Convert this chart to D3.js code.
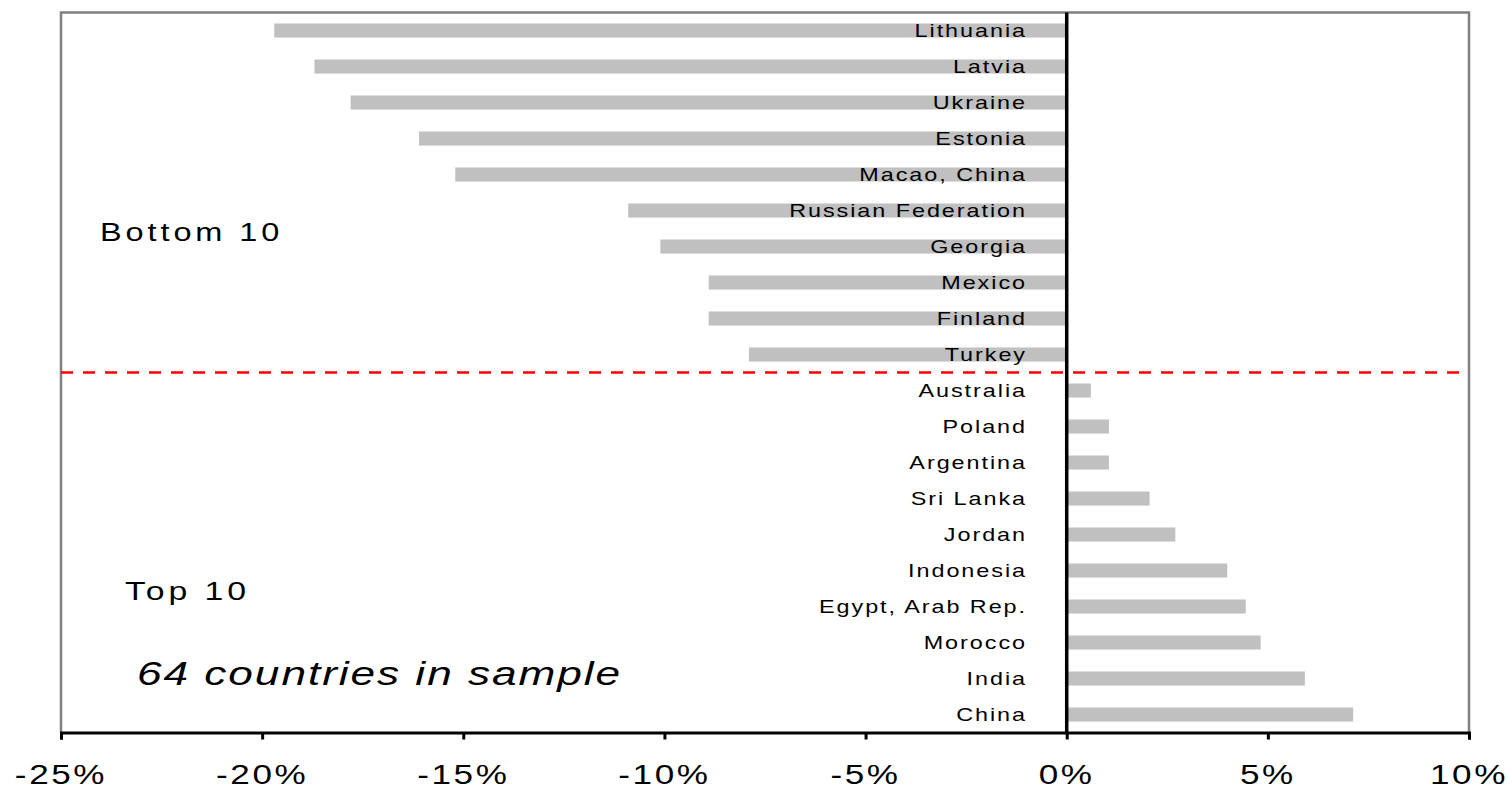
<!DOCTYPE html>
<html>
<head>
<meta charset="utf-8">
<script src="https://cdn.jsdelivr.net/npm/d3@7"></script>
<style>
  html, body { margin: 0; padding: 0; background: #fff; }
  svg { display: block; }
  text { font-family: "Liberation Sans", Arial, sans-serif; fill: #000; }
</style>
</head>
<body>
<svg id="chart" width="1509" height="793"></svg>
<script>
// Countries, top to bottom
const countries = [
  "Lithuania", "Latvia", "Ukraine", "Estonia", "Macao, China",
  "Russian Federation", "Georgia", "Mexico", "Finland", "Turkey",
  "Australia", "Poland", "Argentina", "Sri Lanka", "Jordan",
  "Indonesia", "Egypt, Arab Rep.", "Morocco", "India", "China"
];
// Change, in percent
const values = [
  -19.7, -18.7, -17.8, -16.1, -15.2,
  -10.9, -10.1, -8.9, -8.9, -7.9,
  0.6, 1.05, 1.05, 2.06, 2.7,
  3.99, 4.45, 4.82, 5.92, 7.12
];
const xTicks = [-25, -20, -15, -10, -5, 0, 5, 10];
const groupLabels = ["Bottom 10", "Top 10"];
const sampleNote = "64 countries in sample";

const svg = d3.select("#chart");
const plotLeft = 61, plotRight = 1469, plotTop = 12.5, plotBottom = 732.5;
const sx = 1.3; // horizontal text stretch

const x = d3.scaleLinear().domain([-25, 10]).range([plotLeft, plotRight]);
const y = d3.scaleBand().domain(countries).range([plotTop, plotBottom]).paddingInner(0.61).paddingOuter(0.305);

const data = countries.map((c, i) => ({ name: c, value: values[i] }));

// Stretched text helper
function label(g, tx, ty, str, opts) {
  const o = Object.assign({ size: 16, anchor: "start", ls: 2, scale: sx, italic: false }, opts || {});
  const t = g.append("g").attr("transform", `translate(${tx},${ty}) scale(${o.scale},1)`)
    .append("text")
    .attr("text-anchor", o.anchor)
    .style("font-size", o.size + "px")
    .style("letter-spacing", o.ls + "px")
    .text(str);
  if (o.italic) t.style("font-style", "italic");
  return t;
}

// Bars
svg.append("g").selectAll("rect").data(data).join("rect")
  .attr("x", d => x(Math.min(0, d.value)))
  .attr("width", d => Math.abs(x(d.value) - x(0)))
  .attr("y", d => y(d.name))
  .attr("height", y.bandwidth())
  .attr("fill", "#c0c0c0");

// Plot frame (top, left, right in grey)
svg.append("path")
  .attr("d", `M${plotLeft},${plotBottom}V${plotTop}H${plotRight}V${plotBottom}`)
  .attr("fill", "none").attr("stroke", "#808080").attr("stroke-width", 2.5);

// Dashed separator between the two groups
const sepY = (y(countries[9]) + y.bandwidth() + y(countries[10])) / 2;
svg.append("line")
  .attr("x1", plotLeft).attr("x2", plotRight)
  .attr("y1", sepY).attr("y2", sepY)
  .attr("stroke", "#ff0000").attr("stroke-width", 2.5)
  .attr("stroke-dasharray", "12,10");

// Zero line
svg.append("line")
  .attr("x1", x(0)).attr("x2", x(0))
  .attr("y1", plotTop).attr("y2", plotBottom)
  .attr("stroke", "#000").attr("stroke-width", 3.5);

// X axis
const axis = svg.append("g").attr("transform", `translate(0,${plotBottom})`)
  .call(d3.axisBottom(x).tickValues(xTicks).tickSize(7).tickFormat(""));
axis.select(".domain").attr("stroke", "#000").attr("stroke-width", 3);
axis.selectAll(".tick line").attr("stroke", "#000").attr("stroke-width", 3);

const tickLabels = svg.append("g");
xTicks.forEach(v => {
  label(tickLabels, x(v), 784, d3.format(".0%")(v / 100).replace("−", "-"),
    { size: 27, anchor: "middle", ls: 2 });
});

// Country labels
const names = svg.append("g");
data.forEach(d => {
  label(names, 1027, y(d.name) + y.bandwidth() / 2 + 6.3, d.name, { size: 18, anchor: "end", ls: 1.5 });
});

// Group annotations
const notes = svg.append("g");
label(notes, 100, 241, groupLabels[0], { size: 25, ls: 3 });
label(notes, 125, 600, groupLabels[1], { size: 26, ls: 3 });
label(notes, 137, 685, sampleNote, { size: 34, ls: 1.5, scale: 1.3, italic: true });
</script>
</body>
</html>
